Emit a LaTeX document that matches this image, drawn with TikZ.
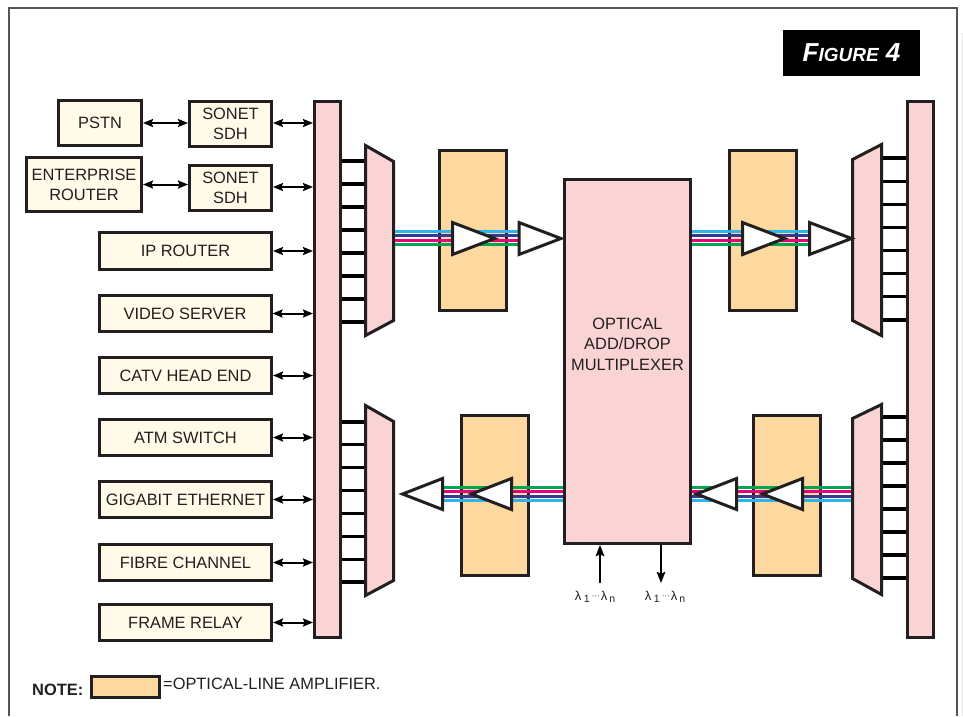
\documentclass[tikz,border=0pt]{standalone}
\usepackage{fontspec}
\setmainfont{Liberation Sans}
\usetikzlibrary{arrows.meta}
\definecolor{dk}{RGB}{35,31,32}
\definecolor{cream}{RGB}{255,251,232}
\definecolor{pinkf}{RGB}{250,212,212}
\definecolor{ampf}{RGB}{253,217,160}
\definecolor{fcyan}{RGB}{41,182,236}
\definecolor{fpurp}{RGB}{58,56,140}
\definecolor{fmag}{RGB}{230,0,126}
\definecolor{fgrn}{RGB}{0,166,81}
\definecolor{framec}{RGB}{85,85,85}
\tikzset{
  ampR/.pic={\draw[tri] (0,-16) -- (42,0) -- (0,16) -- cycle;},
  ampL/.pic={\draw[tri] (0,-15.5) -- (-40,0) -- (0,15.5) -- cycle;}
}
\newcommand{\lamrange}{\fontsize{13}{14}\selectfont λ\kern2.5pt\raisebox{-2.5pt}{\fontsize{10.5}{10.5}\selectfont 1}\kern2pt\raisebox{2pt}{\fontsize{8}{8}\selectfont···}\kern1pt λ\kern2pt\raisebox{-2.5pt}{\fontsize{10.5}{10.5}\selectfont n}}
\begin{document}
\begin{tikzpicture}[x=1pt,y=-1pt,
  every node/.style={text=dk},
  fs/.style={font=\fontsize{16.4}{20}\selectfont},
  sz/.style 2 args={minimum width=#1, minimum height=#2},
  srcbox/.style={draw=dk, line width=3pt, fill=cream, inner sep=0pt, align=center, fs},
  barbox/.style={draw=dk, line width=3pt, fill=pinkf, inner sep=0pt},
  ampbox/.style={draw=dk, line width=3pt, fill=ampf, inner sep=0pt, sz={67}{160}},
  muxst/.style={draw=dk, line width=3pt, fill=pinkf, line join=miter},
  rung/.style={draw=black, line width=3.2pt},
  tri/.style={draw=dk, fill=white, line width=3pt, line join=miter},
  fib/.style={line width=2.8pt},
  link/.style={draw=black, line width=2pt, {Stealth[length=10pt,width=8pt,inset=1.5pt]}-{Stealth[length=10pt,width=8pt,inset=1.5pt]}},
  vlink/.style={draw=black, line width=2pt, -{Stealth[length=11pt,width=8.5pt,inset=1.5pt]}},
  lamb/.style={inner sep=0pt}
]
\useasboundingbox (0,0) rectangle (963,716);
% frame
\draw[framec, line width=1.3pt] (9,716) -- (9,8) -- (957,8) -- (957,716);
\fill[black!10] (961.5,33) rectangle (963,716);
% figure label
\node[fill=black, text=white, sz={137}{46}, inner sep=0pt] (fig) at (851.5,53)
  {\bfseries\itshape{\fontsize{26}{26}\selectfont F}{\fontsize{19}{19}\selectfont IGURE}{\fontsize{26}{26}\selectfont\ 4}};

% rungs
\foreach \i in {0,...,7} {
  \draw[rung] (342,{161+\i*23}) -- (365,{161+\i*23});
  \draw[rung] (342,{422+\i*22.86}) -- (365,{422+\i*22.86});
  \draw[rung] (882,{158+\i*23.14}) -- (907,{158+\i*23.14});
  \draw[rung] (882,{417+\i*23}) -- (907,{417+\i*23});
}
% bars
\node[barbox, sz={26}{536}] (barL) at (327.5,369.5) {};
\node[barbox, sz={26}{536}] (barR) at (920.5,369.5) {};
% muxes
\draw[muxst] (365.5,145.5) -- (393.5,161.5) -- (393.5,320.5) -- (365.5,335.5) -- cycle;
\draw[muxst] (365.5,405.5) -- (393.5,421.5) -- (393.5,580.5) -- (365.5,595.5) -- cycle;
\draw[muxst] (881.5,144.5) -- (852.5,159.5) -- (852.5,320.5) -- (881.5,335.5) -- cycle;
\draw[muxst] (881.5,404.5) -- (852.5,418.5) -- (852.5,578.5) -- (881.5,594.5) -- cycle;
\coordinate (muxULo) at (395,238);
\coordinate (muxURo) at (851,238);
\coordinate (muxLLo) at (395,494);
\coordinate (muxLRo) at (851,494);
% amplifiers
\node[ampbox] (ampUL) at (473,230.5) {};
\node[ampbox] (ampUR) at (763,230.5) {};
\node[ampbox] (ampLL) at (495,495.5) {};
\node[ampbox] (ampLR) at (786.5,495.5) {};
% OADM
\node[barbox, sz={126}{364}] (oadm) at (627.5,361.5) {};
\node[align=center, inner sep=0pt, font=\fontsize{16.4}{20.5}\selectfont] (oadmtxt) at (627.5,344) {OPTICAL\\ADD/DROP\\MULTIPLEXER};

% triangle positions
\coordinate (tUL1) at (452.5,238.5);
\coordinate (tUL2) at (519,238.5);
\coordinate (tUR1) at (742.5,238.5);
\coordinate (tUR2) at (809.5,238.5);
\coordinate (tLL1) at (442.5,494);
\coordinate (tLL2) at (511.5,494);
\coordinate (tLR1) at (736.5,494);
\coordinate (tLR2) at (802.5,494);

% fibres
\foreach \c/\s in {fcyan/6.6, fpurp/2.2, fmag/-2.2, fgrn/-6.6} {
  \draw[fib, \c] ([yshift=\s pt]muxULo) -- ([yshift=\s pt]muxULo -| tUL2);
  \draw[fib, \c] ([yshift=\s pt]muxULo -| oadm.east) -- ([yshift=\s pt]muxULo -| tUR2);
}
\foreach \c/\s in {fgrn/6.6, fmag/2.2, fpurp/-2.2, fcyan/-6.6} {
  \draw[fib, \c] ([yshift=\s pt]tLL1) -- ([yshift=\s pt]tLL1 -| oadm.west);
  \draw[fib, \c] ([yshift=\s pt]muxLRo -| oadm.east) -- ([yshift=\s pt]muxLRo);
}
% triangles
\pic at (tUL1) {ampR};
\pic at (tUL2) {ampR};
\pic at (tUR1) {ampR};
\pic at (tUR2) {ampR};
\pic at (tLL1) {ampL};
\pic at (tLL2) {ampL};
\pic at (tLR1) {ampL};
\pic at (tLR2) {ampL};

% source boxes
\node[srcbox, sz={83}{45}] (pstn) at (100,123) {PSTN};
\node[srcbox, sz={82}{45}] (sdhA) at (230.5,124) {SONET\\SDH};
\node[srcbox, sz={115}{54}] (ent) at (84,184.5) {ENTERPRISE\\ROUTER};
\node[srcbox, sz={82}{45}] (sdhB) at (230.5,188) {SONET\\SDH};
\node[srcbox, sz={172}{37}] (ip) at (185.5,251) {IP ROUTER};
\node[srcbox, sz={172}{36}] (video) at (185,313.5) {VIDEO SERVER};
\node[srcbox, sz={172}{36}] (catv) at (185.5,375.5) {CATV HEAD END};
\node[srcbox, sz={172}{36}] (atm) at (185.5,437.5) {ATM SWITCH};
\node[srcbox, sz={172}{36}] (gig) at (185.5,499.5) {GIGABIT ETHERNET};
\node[srcbox, sz={172}{36}] (fibre) at (185.5,562.5) {FIBRE CHANNEL};
\node[srcbox, sz={172}{36}] (frame) at (185.5,622.5) {FRAME RELAY};

% links
\draw[link] (pstn.east) -- (pstn.east -| sdhA.west);
\draw[link] (ent.east) -- (ent.east -| sdhB.west);
\draw[link] ([yshift=1pt]sdhA.east) -- ([yshift=1pt]sdhA.east -| barL.west);
\draw[link] ([yshift=1pt]sdhB.east) -- ([yshift=1pt]sdhB.east -| barL.west);
\foreach \n in {ip,video,catv,atm,gig,fibre,frame}
  \draw[link] (\n.east) -- (\n.east -| barL.west);

% add / drop
\coordinate (addin) at (600,583);
\coordinate (dropout) at (661,583);
\draw[vlink] (addin) -- (addin |- oadm.south);
\draw[vlink] (dropout |- oadm.south) -- (dropout);
\node[lamb] (lamA) at (595,597) {\lamrange};
\node[lamb] (lamB) at (665,597) {\lamrange};

% note
\node[anchor=base west, inner sep=0pt, font=\bfseries\fontsize{16.4}{20}\selectfont] (note) at (32,695) {NOTE:};
\node[draw=dk, line width=3pt, fill=ampf, sz={68}{21}, inner sep=0pt] (swatch) at (125.5,687) {};
\node[anchor=base west, inner sep=0pt, fs] (notetxt) at (163,689) {=OPTICAL-LINE AMPLIFIER.};
\end{tikzpicture}
\end{document}
